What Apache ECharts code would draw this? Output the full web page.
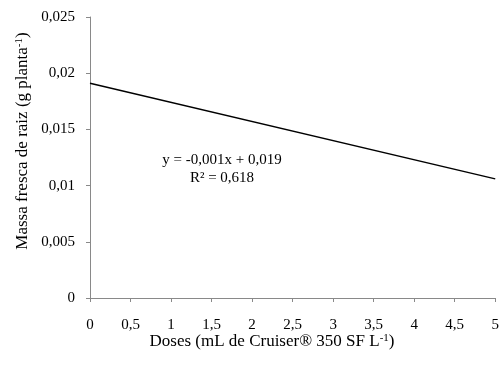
<!DOCTYPE html>
<html><head><meta charset="utf-8">
<script src="https://cdn.jsdelivr.net/npm/echarts@6/dist/echarts.min.js"></script>
<style>html,body{margin:0;padding:0;background:#fff}#c{width:502px;height:372px}</style>
</head><body><div id="c"></div>
<script>
const doses = [0, 5];
const trend = [0.0191, 0.0106];
const xTicks = [0, 0.5, 1, 1.5, 2, 2.5, 3, 3.5, 4, 4.5, 5];
const yTicks = [0, 0.005, 0.01, 0.015, 0.02, 0.025];
const eqText = 'y = -0,001x + 0,019';
const r2Text = 'R² = 0,618';

const chart = echarts.init(document.getElementById('c'), null, {renderer: 'canvas'});
const fmt = v => String(+v.toFixed(4)).replace('.', ',');
const serif = '"Liberation Serif", "Times New Roman", serif';
const axisGray = '#898989';
chart.setOption({
  animation: false,
  grid: {left: 90, right: 2, top: 17, bottom: 74, containLabel: false},
  xAxis: {
    type: 'value', min: xTicks[0], max: xTicks[xTicks.length - 1], interval: xTicks[1] - xTicks[0],
    axisLine: {show: true, onZero: false, lineStyle: {color: axisGray, width: 1}},
    axisTick: {show: true, length: 4, lineStyle: {color: axisGray}},
    splitLine: {show: false},
    axisLabel: {formatter: fmt, fontFamily: serif, fontSize: 15, color: '#000', margin: 20}
  },
  yAxis: {
    type: 'value', min: yTicks[0], max: yTicks[yTicks.length - 1], interval: yTicks[1] - yTicks[0],
    axisLine: {show: true, lineStyle: {color: axisGray, width: 1}},
    axisTick: {show: true, length: 4, lineStyle: {color: axisGray}},
    splitLine: {show: false},
    axisLabel: {formatter: fmt, fontFamily: serif, fontSize: 15, color: '#000', margin: 15}
  },
  series: [{
    type: 'line', data: doses.map((d, i) => [d, trend[i]]),
    symbol: 'none', lineStyle: {color: '#000', width: 1.5}
  }],
  graphic: [
    {type: 'text', x: 222, y: 160, style: {text: eqText, font: '15px ' + serif, fill: '#000', align: 'center', verticalAlign: 'middle'}},
    {type: 'text', x: 222, y: 178, style: {text: r2Text, font: '15px ' + serif, fill: '#000', align: 'center', verticalAlign: 'middle'}},
    {type: 'text', x: 272, y: 342, style: {
      text: '{n|Doses (mL de Cruiser® 350 SF L}{s|-1}{n|)}',
      align: 'center', verticalAlign: 'middle',
      rich: {n: {fontFamily: serif, fontSize: 17, color: '#000', fill: '#000'},
             s: {fontFamily: serif, fontSize: 11, color: '#000', fill: '#000', padding: [0, 0, 8, 0]}}
    }},
    {type: 'text', x: 23, y: 141, rotation: Math.PI / 2, style: {
      text: '{n|Massa fresca de raiz (g planta}{s|-1}{n|)}',
      align: 'center', verticalAlign: 'middle',
      rich: {n: {fontFamily: serif, fontSize: 17, color: '#000', fill: '#000'},
             s: {fontFamily: serif, fontSize: 11, color: '#000', fill: '#000', padding: [0, 0, 8, 0]}}
    }}
  ]
});
</script></body></html>
